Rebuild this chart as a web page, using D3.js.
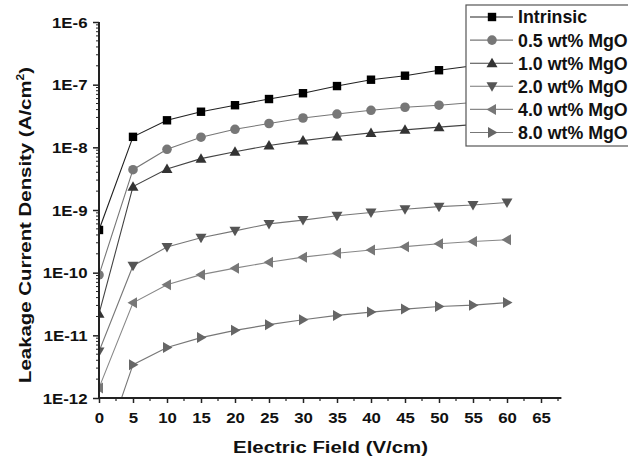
<!DOCTYPE html>
<html lang="en">
    <head>
        <meta charset="utf-8">
        <title>Leakage current density</title>
        <script type="text/javascript" src="https://d3js.org/d3.v7.min.js"></script>
        <style>
            body { margin: 0; background: white; }
            svg { display: block; }
            text { font-family: "Liberation Sans", Arial, sans-serif; font-weight: bold; fill: #111; }
        </style>
    </head>
    <body>
        <script>
            const w = 628;
            const h = 465;

            // data
            const field = [0, 5, 10, 15, 20, 25, 30, 35, 40, 45, 50, 55, 60];
            const seriesNames = ["Intrinsic", "0.5 wt% MgO", "1.0 wt% MgO", "2.0 wt% MgO", "4.0 wt% MgO", "8.0 wt% MgO"];
            const intrinsic = [4.8e-10, 1.47e-8, 2.7e-8, 3.7e-8, 4.7e-8, 5.9e-8, 7.3e-8, 9.5e-8, 1.2e-7, 1.39e-7, 1.7e-7, 2.0e-7, 2.4e-7];
            const mgo05 = [9.2e-11, 4.4e-9, 9.3e-9, 1.45e-8, 1.94e-8, 2.4e-8, 2.94e-8, 3.4e-8, 3.9e-8, 4.36e-8, 4.7e-8, 5.2e-8, 5.7e-8];
            const mgo10 = [2.2e-11, 2.36e-9, 4.5e-9, 6.6e-9, 8.5e-9, 1.07e-8, 1.28e-8, 1.49e-8, 1.7e-8, 1.9e-8, 2.1e-8, 2.3e-8, 2.5e-8];
            const mgo20 = [5.5e-12, 1.29e-10, 2.56e-10, 3.6e-10, 4.65e-10, 6.0e-10, 6.9e-10, 8.1e-10, 9.1e-10, 1.03e-9, 1.13e-9, 1.2e-9, 1.32e-9];
            const mgo40 = [1.45e-12, 3.3e-11, 6.4e-11, 9.3e-11, 1.18e-10, 1.47e-10, 1.77e-10, 2.04e-10, 2.3e-10, 2.6e-10, 2.9e-10, 3.15e-10, 3.35e-10];
            const mgo80 = [9e-14, 3.4e-12, 6.4e-12, 9.2e-12, 1.2e-11, 1.48e-11, 1.77e-11, 2.08e-11, 2.35e-11, 2.62e-11, 2.88e-11, 3.03e-11, 3.33e-11];
            const allSeries = [intrinsic, mgo05, mgo10, mgo20, mgo40, mgo80];
            const xTicks = [0, 5, 10, 15, 20, 25, 30, 35, 40, 45, 50, 55, 60, 65];
            const yTicks = [1e-12, 1e-11, 1e-10, 1e-9, 1e-8, 1e-7, 1e-6];
            const yTickLabels = ["1E-12", "1E-11", "1E-10", "1E-9", "1E-8", "1E-7", "1E-6"];

            const markerColors = ["#000", "#777", "#333", "#555", "#777", "#666"];
            const lineColors = ["#222", "#777", "#444", "#777", "#888", "#777"];
            const shapes = ["square", "circle", "up", "down", "left", "right"];

            const mLeft = 99, mRight = 561.4, mTop = 22, mBottom = 398;
            const stretch = 1.2;   // the axis texts are drawn wider than normal

            const xScale = d3.scaleLinear().domain([0, 68]).range([mLeft, mRight]);
            const yScale = d3.scaleLog().domain([1e-12, 1e-6]).range([mBottom, mTop]);

            const svg = d3.select("body").append("svg")
                .attr("width", w)
                .attr("height", h);

            svg.append("defs").append("clipPath").attr("id", "plot")
                .append("rect")
                .attr("x", mLeft).attr("y", mTop - 6)
                .attr("width", mRight - mLeft + 10).attr("height", mBottom - mTop + 6);

            // marker drawing
            function marker(g, shape, color) {
                if (shape == "square") {
                    g.append("rect").attr("x", -4.2).attr("y", -4.2).attr("width", 8.4).attr("height", 8.4).attr("fill", color);
                } else if (shape == "circle") {
                    g.append("circle").attr("r", 4.8).attr("fill", color);
                } else {
                    const tri = {
                        up: "M0,-5.5L5.5,4L-5.5,4Z",
                        down: "M0,5.5L5.5,-4L-5.5,-4Z",
                        left: "M-5.5,0L4,-5.5L4,5.5Z",
                        right: "M5.5,0L-4,-5.5L-4,5.5Z"
                    };
                    g.append("path").attr("d", tri[shape]).attr("fill", color);
                }
            }

            const line = d3.line()
                .x(function(d, i) { return xScale(field[i]); })
                .y(function(d) { return yScale(d); });

            const plot = svg.append("g").attr("clip-path", "url(#plot)");

            allSeries.forEach(function(vals, s) {
                plot.append("path")
                    .datum(vals)
                    .attr("d", line)
                    .attr("fill", "none")
                    .attr("stroke", lineColors[s])
                    .attr("stroke-width", 1.1);
                vals.forEach(function(v, i) {
                    const g = plot.append("g")
                        .attr("transform", "translate(" + xScale(field[i]) + "," + yScale(v) + ")");
                    marker(g, shapes[s], markerColors[s]);
                });
            });

            // x axis
            const xAxis = d3.axisBottom(xScale)
                .tickValues(xTicks)
                .tickSize(5)
                .tickFormat(d3.format("d"));
            const gx = svg.append("g")
                .attr("transform", "translate(0," + mBottom + ")")
                .call(xAxis);
            gx.select(".domain").attr("d", "M" + mLeft + ",0H" + mRight).attr("stroke", "#222").attr("stroke-width", 2);
            gx.selectAll(".tick line").attr("stroke", "#222").attr("stroke-width", 1.5);
            gx.selectAll(".tick text")
                .attr("y", 25).attr("dy", null)
                .attr("font-size", "14px").attr("font-family", null)
                .attr("transform", "scale(" + stretch + ",1)");

            gx.selectAll(".minor")
                .data(d3.range(2.5, 68, 5))
                .enter()
                .append("line")
                .attr("x1", function(d) { return xScale(d); })
                .attr("x2", function(d) { return xScale(d); })
                .attr("y1", 0).attr("y2", 3)
                .attr("stroke", "#222").attr("stroke-width", 1.2);

            // y axis
            const yAxis = d3.axisLeft(yScale)
                .tickValues(yTicks)
                .tickSize(6)
                .tickFormat(function(d, i) { return yTickLabels[i]; });
            const gy = svg.append("g")
                .attr("transform", "translate(" + mLeft + ",0)")
                .call(yAxis);
            gy.select(".domain").attr("d", "M0," + mBottom + "V" + mTop).attr("stroke", "#222").attr("stroke-width", 2);
            gy.selectAll(".tick line").attr("stroke", "#222").attr("stroke-width", 1.5);
            gy.selectAll(".tick text")
                .attr("x", -11.5 / stretch).attr("dy", "0.36em")
                .attr("font-size", "14px").attr("font-family", null)
                .attr("transform", "scale(" + stretch + ",1)");

            let minorY = [];
            for (let e = -12; e < -6; e++) {
                for (let m = 2; m <= 9; m++) {
                    minorY.push(m * Math.pow(10, e));
                }
            }
            gy.selectAll(".minor")
                .data(minorY)
                .enter()
                .append("line")
                .attr("x1", 0).attr("x2", -3)
                .attr("y1", function(d) { return yScale(d); })
                .attr("y2", function(d) { return yScale(d); })
                .attr("stroke", "#222").attr("stroke-width", 1);

            // axis titles
            svg.append("text")
                .attr("transform", "translate(330.5,453) scale(" + stretch + ",1)")
                .attr("text-anchor", "middle")
                .attr("font-size", "17px")
                .text("Electric Field (V/cm)");

            const yTitle = svg.append("text")
                .attr("transform", "translate(31,225) rotate(-90) scale(" + stretch + ",1)")
                .attr("text-anchor", "middle")
                .attr("font-size", "17px");
            yTitle.append("tspan").text("Leakage Current Density (A/cm");
            yTitle.append("tspan").attr("font-size", "10px").attr("dy", "-7").text("2");
            yTitle.append("tspan").attr("dy", "7").text(")");

            // legend
            const lx = 466, ly = 5, rowH = 23.1;
            const legend = svg.append("g");
            legend.append("rect")
                .attr("x", lx).attr("y", ly)
                .attr("width", 200).attr("height", 141)
                .attr("fill", "white")
                .attr("stroke", "#555")
                .attr("stroke-width", 1.2);

            seriesNames.forEach(function(name, s) {
                const yy = ly + 12 + s * rowH;
                legend.append("line")
                    .attr("x1", lx + 4).attr("x2", lx + 47)
                    .attr("y1", yy).attr("y2", yy)
                    .attr("stroke", lineColors[s]).attr("stroke-width", 1.1);
                const g = legend.append("g").attr("transform", "translate(" + (lx + 26) + "," + yy + ")");
                marker(g, shapes[s], markerColors[s]);
                legend.append("text")
                    .attr("x", lx + 52)
                    .attr("y", yy)
                    .attr("dy", "0.36em")
                    .attr("font-size", "17.8px")
                    .text(name);
            });
        </script>
    </body>
</html>
